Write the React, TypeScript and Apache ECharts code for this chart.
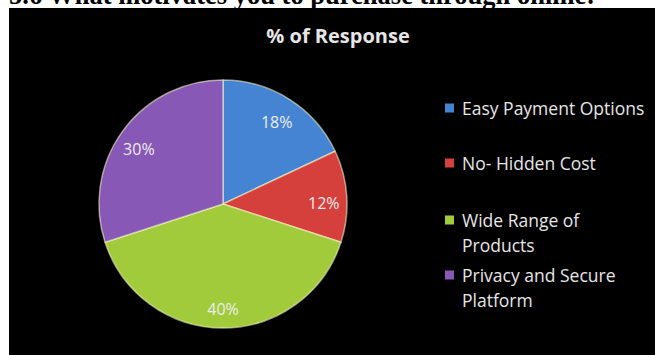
import React, { useEffect, useRef } from "react";
import * as echarts from "echarts";

const heading = "5.6 What motivates you to purchase through online:";
const chartTitle = "% of Response";
const categories = [
  "Easy Payment Options",
  "No- Hidden Cost",
  "Wide Range of Products",
  "Privacy and Secure Platform",
];
const legendLines = [
  "Easy Payment Options",
  "No- Hidden Cost",
  "Wide Range of\nProducts",
  "Privacy and Secure\nPlatform",
];
const values = [18, 12, 40, 30];
const colors = ["#4584d3", "#d6403c", "#a2cb3c", "#8858b6"];

export default function App() {
  const ref = useRef<HTMLDivElement>(null);
  useEffect(() => {
    if (!ref.current) return;
    const chart = echarts.init(ref.current, null, { renderer: "svg" });
    const data = categories.map((name, i) => ({
      name,
      value: values[i],
      itemStyle: { color: colors[i] },
    }));
    const labelOffsets = [
      [-2, 6],
      [-3, 6],
      [0, 1],
      [0, 6],
    ];
    const labelData = categories.map((name, i) => ({
      name,
      value: values[i],
      label: { offset: labelOffsets[i] },
    }));
    const legends = categories.map((name, i) => {
      const twoLine = legendLines[i].includes("\n");
      return {
        data: [name],
        left: 445,
        top: [95.5, 150.5, 207.5, 262.5][i],
        orient: "vertical",
        padding: 0,
        icon: twoLine ? "path://M0,0L9,0L9,9L0,9Z M0,34L0.01,34Z" : "rect",
        itemWidth: 9,
        itemHeight: twoLine ? 34 : 9,
        selectedMode: false,
        itemStyle: { borderWidth: 0 },
        formatter: () => legendLines[i],
        textStyle: {
          color: "#e6e6e6",
          fontSize: 17.5,
          fontFamily: "Open Sans",
          lineHeight: 25,
          padding: [0, 0, 0, 3],
        },
      };
    });
    chart.setOption({
      animation: false,
      backgroundColor: "#ffffff",
      graphic: [
        {
          type: "text",
          left: 9,
          top: -19,
          z: 0,
          style: {
            text: heading,
            font: 'bold 26.5px "Liberation Serif"',
            fill: "#000000",
          },
        },
        {
          type: "rect",
          shape: { x: 9, y: 8, width: 646, height: 347 },
          z: 1,
          style: { fill: "#000000" },
        },
      ],
      title: {
        text: chartTitle,
        left: 333,
        top: 20,
        textAlign: "center",
        textStyle: {
          color: "#e6e6e6",
          fontSize: 20,
          fontWeight: "bold",
          fontFamily: "Open Sans",
        },
      },
      legend: legends,
      series: [
        {
          type: "pie",
          center: [223, 204],
          radius: 124,
          startAngle: 90,
          clockwise: true,
          label: { show: false },
          labelLine: { show: false },
          itemStyle: { borderColor: "rgba(255,255,210,0.55)", borderWidth: 1.5 },
          emphasis: { disabled: true },
          data,
        },
        {
          type: "pie",
          center: [223, 204],
          radius: [78, 124],
          startAngle: 90,
          clockwise: true,
          silent: true,
          legendHoverLink: false,
          itemStyle: { color: "rgba(0,0,0,0)" },
          label: {
            show: true,
            position: "inside",
            formatter: "{c}%",
            color: "#ececec",
            fontSize: 16,
            fontFamily: "Open Sans",
          },
          labelLine: { show: false },
          emphasis: { disabled: true },
          data: labelData,
        },
      ],
    });
    return () => chart.dispose();
  }, []);
  return (
    <div
      ref={ref}
      style={{ position: "absolute", left: 0, top: 0, width: 655, height: 355 }}
    />
  );
}
